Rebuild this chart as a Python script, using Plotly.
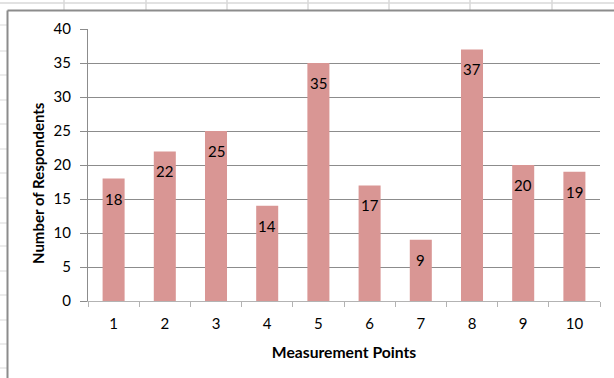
import plotly.graph_objects as go

categories = ["1", "2", "3", "4", "5", "6", "7", "8", "9", "10"]
respondents = [18, 22, 25, 14, 35, 17, 9, 37, 20, 19]
y_ticks = [0, 5, 10, 15, 20, 25, 30, 35, 40]

W, H = 614, 378
ML, MR, MT, MB = 88, 14, 29, 77
PW, PH = W - ML - MR, H - MT - MB

def px(x):
    return (x - ML) / PW

def py(y):
    return (H - MB - y) / PH

FONT = "Lato"
BAR = "#D99694"

fig = go.Figure()
fig.add_trace(go.Bar(
    x=categories, y=respondents,
    marker=dict(color=BAR, line=dict(width=0)),
    width=0.43,
    hoverinfo="x+y",
))

for i, v in enumerate(respondents):
    fig.add_annotation(x=i, y=v, text=str(v), showarrow=False,
                       yshift=-20, font=dict(family=FONT, size=15, color="#000"))

# y-axis title placed like the original (centred slightly below plot middle)
fig.add_annotation(xref="paper", yref="paper", x=px(38), y=py(183),
                   text="<b>Number of Respondents</b>", textangle=-90, showarrow=False,
                   xanchor="center", yanchor="middle",
                   font=dict(family=FONT, size=15, color="#000"))

shapes = []
grey = "#d9d9d9"
# spreadsheet background lines
shapes.append(dict(type="line", xref="paper", yref="paper", x0=px(0), x1=px(W),
                   y0=py(3), y1=py(3), line=dict(color=grey, width=1.5), layer="below"))
for xc in [64, 146, 227, 308, 389, 470, 552]:
    shapes.append(dict(type="line", xref="paper", yref="paper", x0=px(xc), x1=px(xc),
                       y0=py(0), y1=py(10), line=dict(color=grey, width=1.5), layer="below"))
for yr in [25, 51, 75, 100, 124, 149, 173, 198, 223, 246, 271, 295, 320, 344, 368]:
    shapes.append(dict(type="line", xref="paper", yref="paper", x0=px(0), x1=px(7),
                       y0=py(yr), y1=py(yr), line=dict(color=grey, width=1), layer="below"))
# chart area border
shapes.append(dict(type="line", xref="paper", yref="paper", x0=px(7.5), x1=px(W + 5),
                   y0=py(10.5), y1=py(10.5), line=dict(color="#8c8c8c", width=2)))
shapes.append(dict(type="line", xref="paper", yref="paper", x0=px(7.5), x1=px(7.5),
                   y0=py(10.5), y1=py(H + 5), line=dict(color="#8c8c8c", width=2)))

fig.update_layout(
    width=W, height=H,
    margin=dict(l=ML, r=MR, t=MT, b=MB),
    paper_bgcolor="white", plot_bgcolor="white",
    showlegend=False,
    shapes=shapes,
    font=dict(family=FONT, size=15, color="#000"),
    xaxis=dict(
        type="category", automargin=False,
        title=dict(text="<b>Measurement Points</b>", font=dict(size=15.7), standoff=16),
        showline=True, linecolor="#b3b3b3", linewidth=1,
        ticks="outside", tickson="boundaries", ticklen=5, tickcolor="#b3b3b3",
        ticklabelstandoff=9,
        showgrid=False, range=[-0.5, 9.5],
    ),
    yaxis=dict(
        automargin=False,
        range=[0, 40], tickvals=y_ticks,
        showline=True, linecolor="#8c8c8c", linewidth=1,
        ticks="outside", ticklen=7, tickcolor="#8c8c8c",
        ticklabelstandoff=6,
        showgrid=True, gridcolor="#8c8c8c", gridwidth=1,
        zeroline=False,
    ),
)

fig.write_html("out.html", config={"displayModeBar": False},
               post_script="document.body.style.margin='0';document.body.style.overflow='hidden';")
